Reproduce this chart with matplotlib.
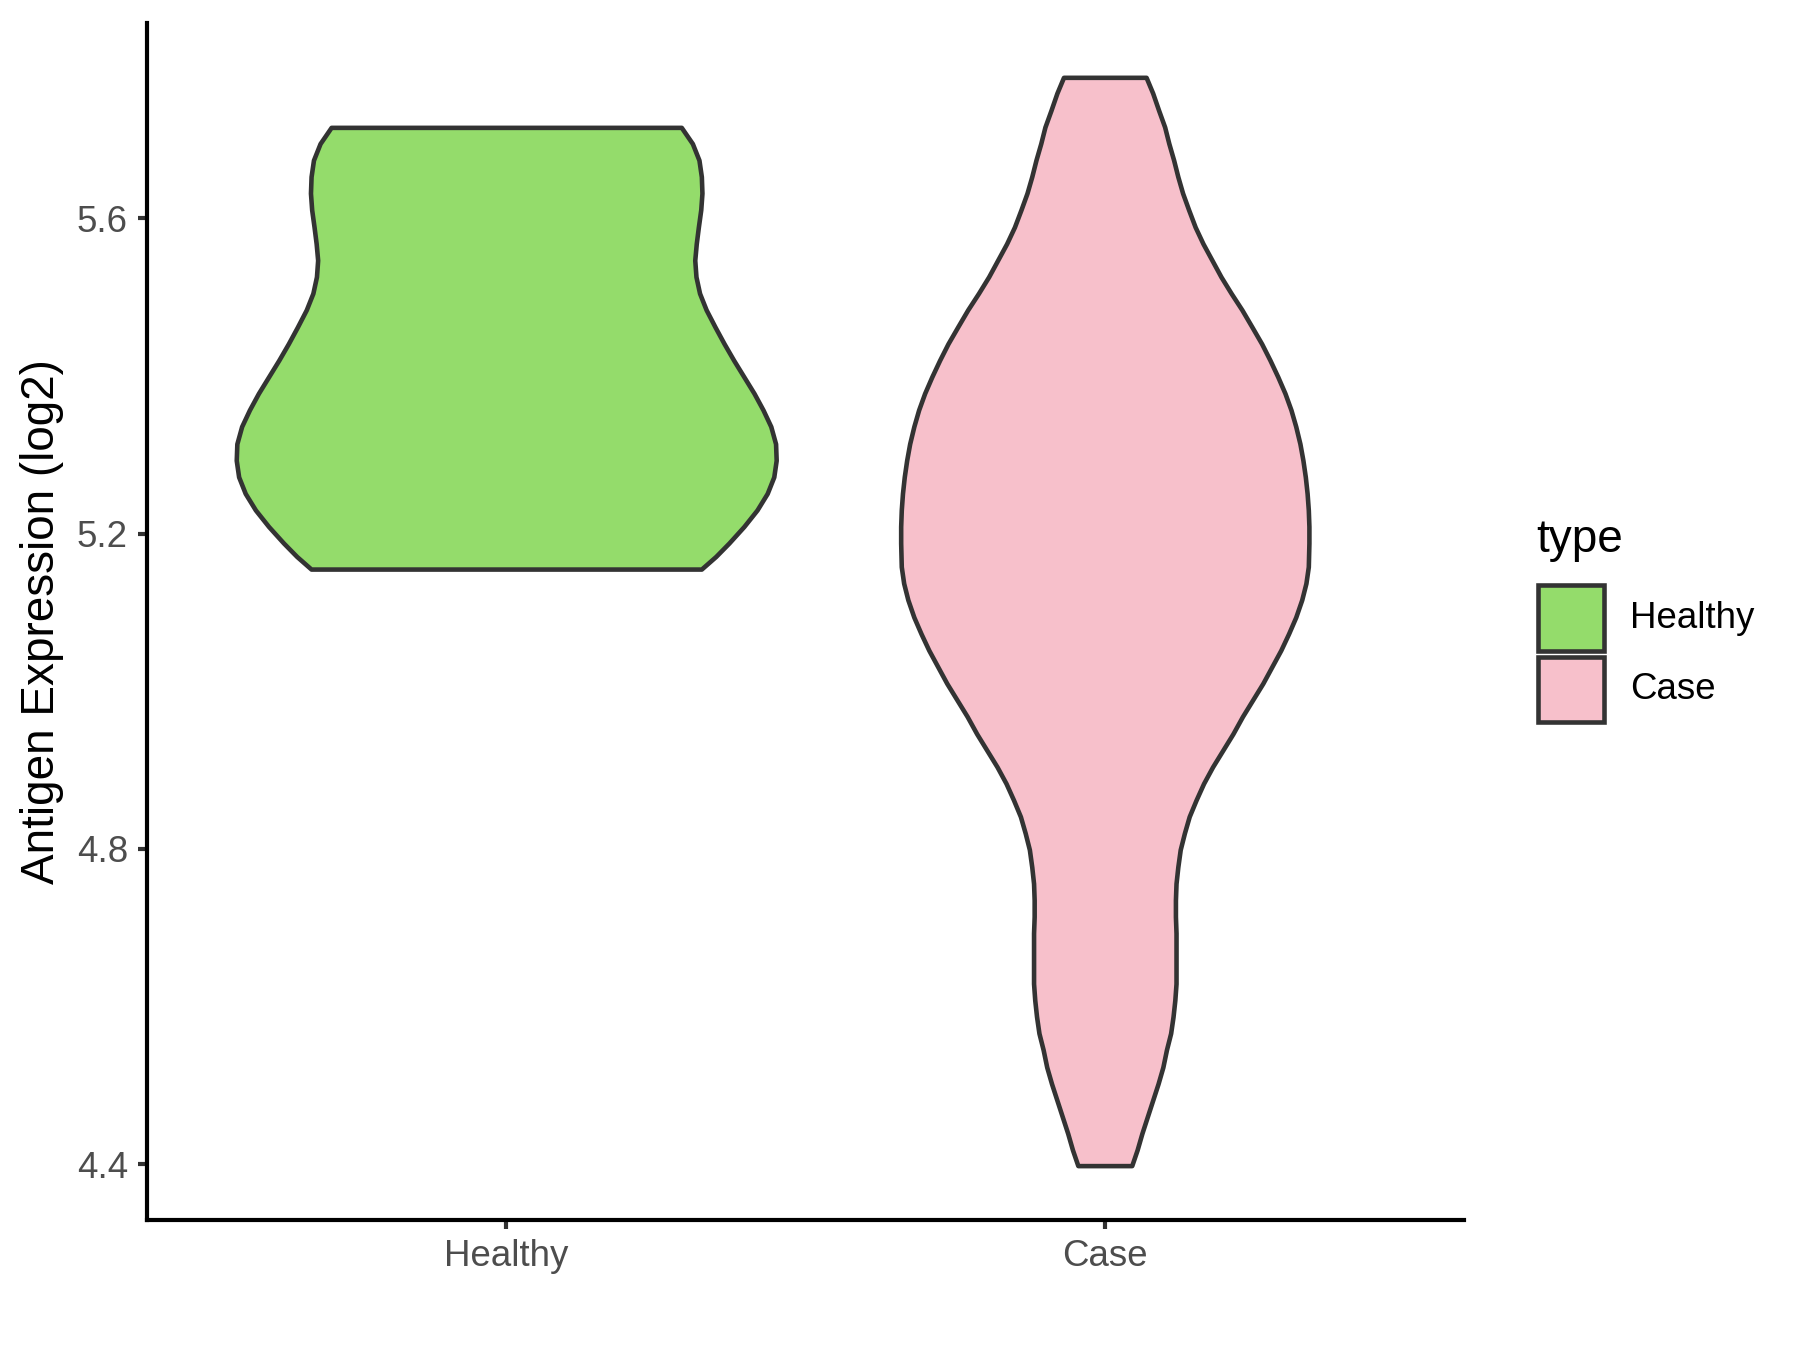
import numpy as np
import matplotlib
matplotlib.use("Agg")
import matplotlib.pyplot as plt
from matplotlib.patches import Rectangle

plt.rcParams['font.family'] = ['Liberation Sans', 'DejaVu Sans']

categories = ["Healthy", "Case"]
colors = ["#94DC6B", "#F7C0CB"]

# Violin outlines: expression levels and half-widths (category units)
healthy_y = [5.155, 5.171, 5.188, 5.209, 5.230, 5.251, 5.272, 5.293, 5.314, 5.336,
             5.357, 5.378, 5.399, 5.420, 5.441, 5.462, 5.484, 5.505, 5.526, 5.547,
             5.568, 5.589, 5.611, 5.632, 5.653, 5.674, 5.695, 5.7155]
healthy_hw = [0.326, 0.350, 0.372, 0.397, 0.419, 0.436, 0.447, 0.451, 0.450, 0.442,
              0.429, 0.414, 0.397, 0.380, 0.364, 0.349, 0.334, 0.323, 0.317, 0.315,
              0.3175, 0.321, 0.325, 0.327, 0.326, 0.322, 0.311, 0.2925]

case_y = [4.398, 4.418, 4.439, 4.460, 4.481, 4.502, 4.523, 4.545, 4.566, 4.587,
          4.608, 4.629, 4.650, 4.672, 4.693, 4.714, 4.735, 4.756, 4.777, 4.799,
          4.820, 4.841, 4.862, 4.883, 4.904, 4.925, 4.946, 4.968, 4.989, 5.010,
          5.031, 5.052, 5.073, 5.094, 5.116, 5.137, 5.158, 5.188, 5.209, 5.230,
          5.251, 5.272, 5.293, 5.314, 5.336, 5.357, 5.378, 5.399, 5.420, 5.441,
          5.462, 5.484, 5.505, 5.526, 5.547, 5.568, 5.589, 5.611, 5.632, 5.653,
          5.674, 5.695, 5.716, 5.737, 5.759, 5.779]
case_hw = [0.045, 0.054, 0.062, 0.071, 0.080, 0.089, 0.097, 0.103, 0.110, 0.114,
           0.117, 0.119, 0.119, 0.119, 0.119, 0.118, 0.118, 0.119, 0.122, 0.126,
           0.133, 0.141, 0.1525, 0.165, 0.180, 0.197, 0.214, 0.230, 0.247, 0.264,
           0.279, 0.294, 0.307, 0.319, 0.329, 0.336, 0.340, 0.341, 0.341, 0.340,
           0.338, 0.335, 0.331, 0.326, 0.319, 0.311, 0.301, 0.289, 0.276, 0.262,
           0.246, 0.229, 0.211, 0.194, 0.179, 0.164, 0.151, 0.140, 0.130, 0.122,
           0.115, 0.107, 0.100, 0.090, 0.080, 0.069]

yticks = [4.4, 4.8, 5.2, 5.6]
ylabel = "Antigen Expression (log2)"
legend_title = "type"

fig = plt.figure(figsize=(6, 4.5), dpi=300)
ax = fig.add_axes([0.0817, 0.0963, 0.8133 - 0.0817, 0.983 - 0.0963])

profiles = [(healthy_y, healthy_hw), (case_y, case_hw)]
for i, ((ys, hws), col) in enumerate(zip(profiles, colors)):
    ys = np.array(ys)
    hws = np.array(hws)
    pos = i + 1
    ax.fill_betweenx(ys, pos - hws, pos + hws, facecolor=col,
                     edgecolor="#333333", linewidth=1.1, zorder=2,
                     joinstyle="round")

ax.set_xlim(0.4, 2.6)
ax.set_ylim(4.329, 5.848)
ax.set_xticks([1, 2])
ax.set_xticklabels(categories)
ax.set_yticks(yticks)
ax.set_yticklabels([f"{v:.1f}" for v in yticks])
ax.set_ylabel(ylabel, fontsize=11, color="black", labelpad=3.0)

for s in ["top", "right"]:
    ax.spines[s].set_visible(False)
for s in ["left", "bottom"]:
    ax.spines[s].set_linewidth(1.0)
    ax.spines[s].set_color("black")
ax.tick_params(axis="both", length=2.2, width=1.0, color="#333333",
               labelsize=8.8, labelcolor="#4D4D4D", pad=2.4)

# Legend
fig.text(0.8533, 0.600, legend_title, fontsize=11, ha="left", va="center")
key_bottoms = [0.5178, 0.4652]
label_ys = [0.5422, 0.4893]
for col, lab, kb, ly in zip(colors, categories, key_bottoms, label_ys):
    fig.add_artist(Rectangle((0.8544, kb), 0.0367, 0.0485, transform=fig.transFigure,
                             facecolor=col, edgecolor="#333333", linewidth=1.1))
    fig.text(0.9056, ly, lab, fontsize=8.8, ha="left", va="center")

fig.savefig("out.png", dpi=300, facecolor="white")
